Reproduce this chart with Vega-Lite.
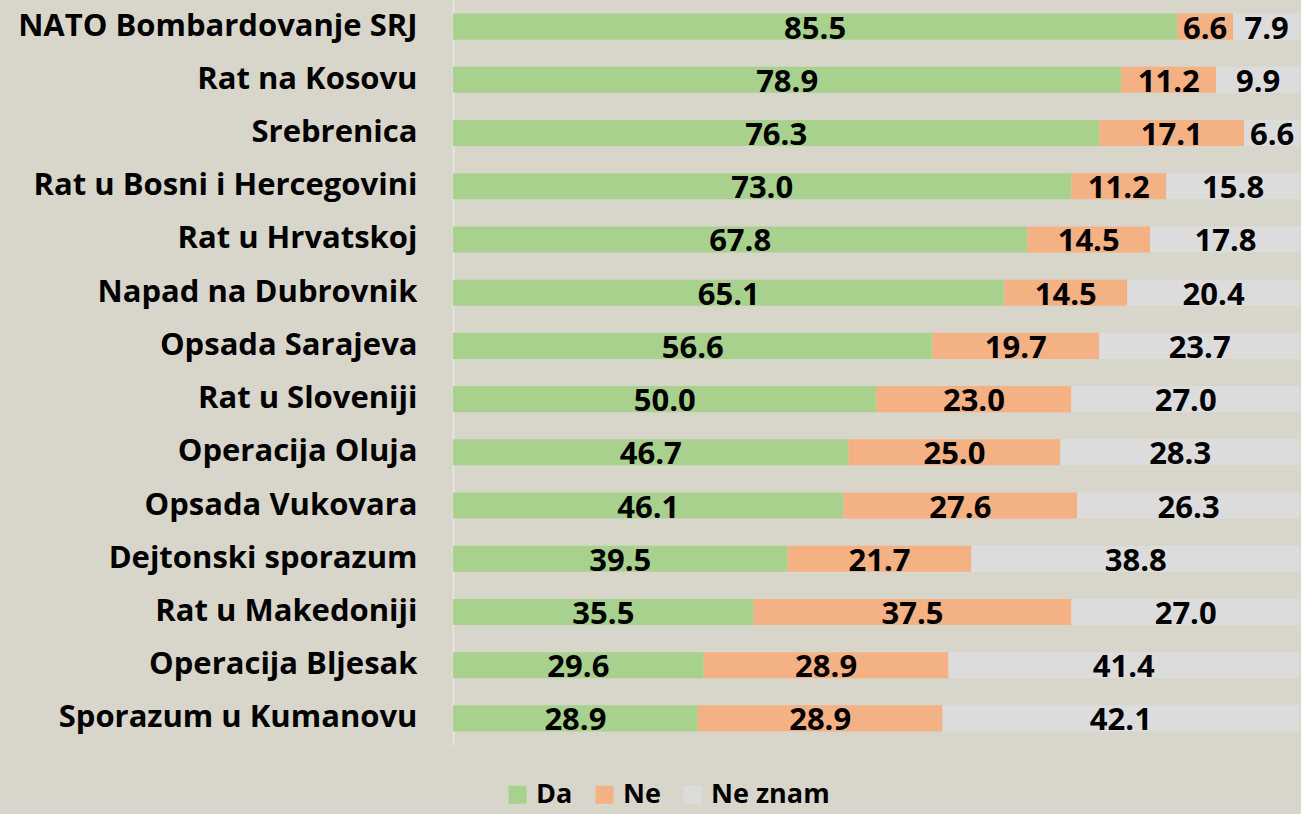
{
  "$schema": "https://vega.github.io/schema/vega-lite/v6.json",
  "width": 847,
  "height": 745,
  "autosize": {"type": "none"},
  "padding": {"left": 453, "top": 0, "right": 1, "bottom": 69},
  "background": "#d8d5ca",
  "view": {"stroke": null},
  "config": {"font": "Open Sans"},
  "data": {
    "values": [
      {"event": "NATO Bombardovanje SRJ", "cat": "Da", "v": 85.5},
      {"event": "NATO Bombardovanje SRJ", "cat": "Ne", "v": 6.6},
      {"event": "NATO Bombardovanje SRJ", "cat": "Ne znam", "v": 7.9},
      {"event": "Rat na Kosovu", "cat": "Da", "v": 78.9},
      {"event": "Rat na Kosovu", "cat": "Ne", "v": 11.2},
      {"event": "Rat na Kosovu", "cat": "Ne znam", "v": 9.9},
      {"event": "Srebrenica", "cat": "Da", "v": 76.3},
      {"event": "Srebrenica", "cat": "Ne", "v": 17.1},
      {"event": "Srebrenica", "cat": "Ne znam", "v": 6.6},
      {"event": "Rat u Bosni i Hercegovini", "cat": "Da", "v": 73.0},
      {"event": "Rat u Bosni i Hercegovini", "cat": "Ne", "v": 11.2},
      {"event": "Rat u Bosni i Hercegovini", "cat": "Ne znam", "v": 15.8},
      {"event": "Rat u Hrvatskoj", "cat": "Da", "v": 67.8},
      {"event": "Rat u Hrvatskoj", "cat": "Ne", "v": 14.5},
      {"event": "Rat u Hrvatskoj", "cat": "Ne znam", "v": 17.8},
      {"event": "Napad na Dubrovnik", "cat": "Da", "v": 65.1},
      {"event": "Napad na Dubrovnik", "cat": "Ne", "v": 14.5},
      {"event": "Napad na Dubrovnik", "cat": "Ne znam", "v": 20.4},
      {"event": "Opsada Sarajeva", "cat": "Da", "v": 56.6},
      {"event": "Opsada Sarajeva", "cat": "Ne", "v": 19.7},
      {"event": "Opsada Sarajeva", "cat": "Ne znam", "v": 23.7},
      {"event": "Rat u Sloveniji", "cat": "Da", "v": 50.0},
      {"event": "Rat u Sloveniji", "cat": "Ne", "v": 23.0},
      {"event": "Rat u Sloveniji", "cat": "Ne znam", "v": 27.0},
      {"event": "Operacija Oluja", "cat": "Da", "v": 46.7},
      {"event": "Operacija Oluja", "cat": "Ne", "v": 25.0},
      {"event": "Operacija Oluja", "cat": "Ne znam", "v": 28.3},
      {"event": "Opsada Vukovara", "cat": "Da", "v": 46.1},
      {"event": "Opsada Vukovara", "cat": "Ne", "v": 27.6},
      {"event": "Opsada Vukovara", "cat": "Ne znam", "v": 26.3},
      {"event": "Dejtonski sporazum", "cat": "Da", "v": 39.5},
      {"event": "Dejtonski sporazum", "cat": "Ne", "v": 21.7},
      {"event": "Dejtonski sporazum", "cat": "Ne znam", "v": 38.8},
      {"event": "Rat u Makedoniji", "cat": "Da", "v": 35.5},
      {"event": "Rat u Makedoniji", "cat": "Ne", "v": 37.5},
      {"event": "Rat u Makedoniji", "cat": "Ne znam", "v": 27.0},
      {"event": "Operacija Bljesak", "cat": "Da", "v": 29.6},
      {"event": "Operacija Bljesak", "cat": "Ne", "v": 28.9},
      {"event": "Operacija Bljesak", "cat": "Ne znam", "v": 41.4},
      {"event": "Sporazum u Kumanovu", "cat": "Da", "v": 28.9},
      {"event": "Sporazum u Kumanovu", "cat": "Ne", "v": 28.9},
      {"event": "Sporazum u Kumanovu", "cat": "Ne znam", "v": 42.1}
    ]
  },
  "encoding": {
    "y": {
      "field": "event",
      "type": "nominal",
      "sort": null,
      "scale": {"paddingInner": 0.51, "paddingOuter": 0.255},
      "axis": {
        "title": null,
        "ticks": false,
        "domainColor": "#e6e4df",
        "domainWidth": 2,
        "labelFontSize": 31,
        "labelFontWeight": "bold",
        "labelColor": "#000000",
        "labelPadding": 36,
        "labelFont": "Open Sans",
        "labelLimit": 450
      }
    }
  },
  "layer": [
    {
      "mark": {"type": "bar"},
      "encoding": {
        "x": {
          "field": "v",
          "type": "quantitative",
          "stack": "zero",
          "scale": {"domain": [0, 100], "nice": false},
          "axis": null
        },
        "order": {"field": "cat", "sort": "ascending"},
        "color": {
          "field": "cat",
          "type": "nominal",
          "scale": {"domain": ["Da", "Ne", "Ne znam"], "range": ["#a9d18e", "#f4b183", "#dcdcdc"]},
          "legend": {
            "title": null,
            "orient": "none",
            "direction": "horizontal",
            "legendX": 51,
            "legendY": 781,
            "symbolType": "square",
            "symbolSize": 324,
            "symbolStrokeWidth": 0,
            "symbolOpacity": 1,
            "labelFontSize": 27,
            "labelFontWeight": "bold",
            "labelColor": "#000000",
            "labelFont": "Open Sans",
            "labelOffset": 5,
            "columnPadding": 18,
            "padding": 0
          }
        }
      }
    },
    {
      "mark": {"type": "text", "fontSize": 31, "fontWeight": "bold", "color": "#000000", "dy": 3, "font": "Open Sans"},
      "encoding": {
        "x": {"field": "v", "type": "quantitative", "stack": "zero", "bandPosition": 0.5},
        "detail": {"field": "cat"},
        "order": {"field": "cat", "sort": "ascending"},
        "text": {"field": "v", "type": "quantitative", "format": ".1f"}
      }
    }
  ]
}
